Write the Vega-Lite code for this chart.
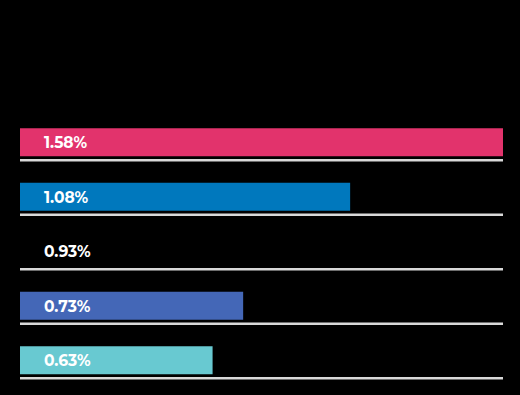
{
  "$schema": "https://vega.github.io/schema/vega-lite/v6.json",
  "width": 483,
  "height": 272.5,
  "autosize": {"type": "none"},
  "padding": {"left": 20, "top": 106, "right": 17, "bottom": 16},
  "background": "#000000",
  "config": {"view": {"stroke": null}},
  "data": {
    "values": [
      {"category": "A", "value": 1.58, "label": "1.58%"},
      {"category": "B", "value": 1.08, "label": "1.08%"},
      {"category": "C", "value": 0.93, "label": "0.93%"},
      {"category": "D", "value": 0.73, "label": "0.73%"},
      {"category": "E", "value": 0.63, "label": "0.63%"}
    ]
  },
  "encoding": {
    "y": {
      "field": "category",
      "type": "nominal",
      "axis": null,
      "sort": null,
      "scale": {"paddingInner": 0, "paddingOuter": 0}
    }
  },
  "layer": [
    {
      "mark": {"type": "rule", "color": "#d9d9d9", "strokeWidth": 2.5, "yOffset": 27},
      "encoding": {
        "x": {"datum": 0, "type": "quantitative", "scale": {"domain": [0, 1.58], "nice": false, "zero": true}, "axis": null},
        "x2": {"datum": 1.58}
      }
    },
    {
      "mark": {"type": "bar", "height": 28, "yOffset": 9, "cornerRadius": 0},
      "encoding": {
        "x": {"field": "value", "type": "quantitative", "scale": {"domain": [0, 1.58], "nice": false}, "axis": null},
        "color": {
          "field": "category",
          "type": "nominal",
          "legend": null,
          "scale": {"domain": ["A", "B", "C", "D", "E"], "range": ["#e2336c", "#0078bd", "#000000", "#4467b7", "#68c9d1"]}
        }
      }
    },
    {
      "mark": {"type": "text", "align": "left", "baseline": "middle", "dx": 24, "yOffset": 10, "font": "Montserrat, Lato", "fontWeight": "bold", "fontSize": 15.5, "color": "#ffffff"},
      "encoding": {
        "x": {"datum": 0, "type": "quantitative"},
        "text": {"field": "label"}
      }
    }
  ]
}
